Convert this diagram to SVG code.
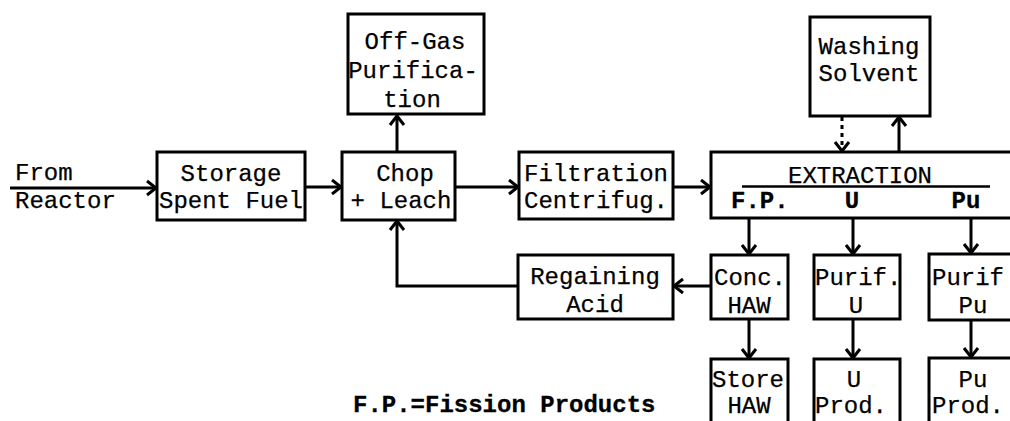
<svg xmlns="http://www.w3.org/2000/svg" width="1010" height="421" viewBox="0 0 1010 421">
<defs>
<style>
.box{fill:#fff;stroke:#000;stroke-width:3}
.t{font-family:"Liberation Mono","Courier New",monospace;font-size:24px;fill:#000;stroke:#000;stroke-width:0.25}
.m{text-anchor:middle}
.b{font-weight:bold;stroke-width:0.3}
.c{fill:none;stroke:#000;stroke-width:3}
.d{stroke-dasharray:4 4}
</style>
<marker id="ah" markerUnits="userSpaceOnUse" markerWidth="20" markerHeight="20" viewBox="-12 -10 14 20" refX="0" refY="0" orient="auto">
<path d="M-9,-7 L0,0 L-9,7" fill="none" stroke="#000" stroke-width="3"/>
</marker>
</defs>
<rect width="1010" height="421" fill="#fff"/>
<g id="connectors">
<line class="c" x1="10" y1="188" x2="156" y2="188" marker-end="url(#ah)"/>
<line class="c" x1="305" y1="187" x2="341" y2="187" marker-end="url(#ah)"/>
<line class="c" x1="397" y1="152" x2="397" y2="116" marker-end="url(#ah)"/>
<line class="c" x1="455" y1="187" x2="518" y2="187" marker-end="url(#ah)"/>
<line class="c" x1="673" y1="187" x2="710" y2="187" marker-end="url(#ah)"/>
<line class="c d" x1="842" y1="117" x2="842" y2="151" marker-end="url(#ah)"/>
<line class="c" x1="899" y1="152" x2="899" y2="117" marker-end="url(#ah)"/>
<line class="c" x1="749" y1="218" x2="749" y2="254" marker-end="url(#ah)"/>
<line class="c" x1="853" y1="218" x2="853" y2="254" marker-end="url(#ah)"/>
<line class="c" x1="971" y1="218" x2="971" y2="253" marker-end="url(#ah)"/>
<line class="c" x1="711" y1="286" x2="674" y2="286" marker-end="url(#ah)"/>
<polyline class="c" points="518,286 397,286 397,221" marker-end="url(#ah)"/>
<line class="c" x1="749" y1="319" x2="749" y2="358" marker-end="url(#ah)"/>
<line class="c" x1="853" y1="319" x2="853" y2="358" marker-end="url(#ah)"/>
<line class="c" x1="971" y1="320" x2="971" y2="357" marker-end="url(#ah)"/>
</g>
<g id="from-reactor">
<text class="t" x="15" y="180">From</text>
<text class="t" x="15" y="208">Reactor</text>
</g>
<g id="storage">
<rect class="box" x="157" y="152" width="148" height="68"/>
<text class="t m" x="231" y="181">Storage</text>
<text class="t m" x="231" y="208">Spent Fuel</text>
</g>
<g id="chop">
<rect class="box" x="342" y="152" width="113" height="68"/>
<text class="t m" x="405" y="181">Chop</text>
<text class="t m" x="401" y="208">+ Leach</text>
</g>
<g id="offgas">
<rect class="box" x="348" y="14" width="136" height="100"/>
<text class="t m" x="415" y="49">Off-Gas</text>
<text class="t m" x="413" y="78">Purifica-</text>
<text class="t m" x="412" y="107">tion</text>
</g>
<g id="filtration">
<rect class="box" x="519" y="152" width="154" height="67"/>
<text class="t m" x="596" y="181">Filtration</text>
<text class="t m" x="596" y="208">Centrifug.</text>
</g>
<g id="extraction">
<rect class="box" x="711" y="152" width="330" height="66"/>
<text class="t m" x="860" y="183">EXTRACTION</text>
<line x1="742" y1="186.5" x2="990" y2="186.5" stroke="#000" stroke-width="2.5"/>
<text class="t b" x="731" y="208">F.P.</text>
<text class="t m b" x="852" y="208">U</text>
<text class="t m b" x="966" y="208">Pu</text>
</g>
<g id="washing">
<rect class="box" x="810" y="17" width="120" height="99"/>
<text class="t m" x="869" y="54">Washing</text>
<text class="t m" x="869" y="81">Solvent</text>
</g>
<g id="regaining">
<rect class="box" x="518" y="255" width="155" height="64"/>
<text class="t m" x="595" y="284">Regaining</text>
<text class="t m" x="595" y="312">Acid</text>
</g>
<g id="conc-haw">
<rect class="box" x="711" y="255" width="77" height="64"/>
<text class="t m" x="750" y="285">Conc.</text>
<text class="t m" x="749" y="313">HAW</text>
</g>
<g id="purif-u">
<rect class="box" x="814" y="255" width="86" height="64"/>
<text class="t" x="815" y="285">Purif.</text>
<text class="t m" x="856" y="313">U</text>
</g>
<g id="purif-pu">
<rect class="box" x="929" y="254" width="110" height="66"/>
<text class="t" x="932" y="285">Purif</text>
<text class="t m" x="973" y="313">Pu</text>
</g>
<g id="store-haw">
<rect class="box" x="711" y="359" width="77" height="80"/>
<text class="t" x="712" y="387">Store</text>
<text class="t m" x="749" y="413">HAW</text>
</g>
<g id="u-prod">
<rect class="box" x="814" y="359" width="86" height="80"/>
<text class="t m" x="854" y="387">U</text>
<text class="t" x="815" y="413">Prod.</text>
</g>
<g id="pu-prod">
<rect class="box" x="929" y="358" width="110" height="80"/>
<text class="t m" x="973" y="387">Pu</text>
<text class="t" x="932" y="413">Prod.</text>
</g>
<g id="legend">
<text class="t b" x="353" y="412">F.P.=Fission Products</text>
</g>
</svg>
